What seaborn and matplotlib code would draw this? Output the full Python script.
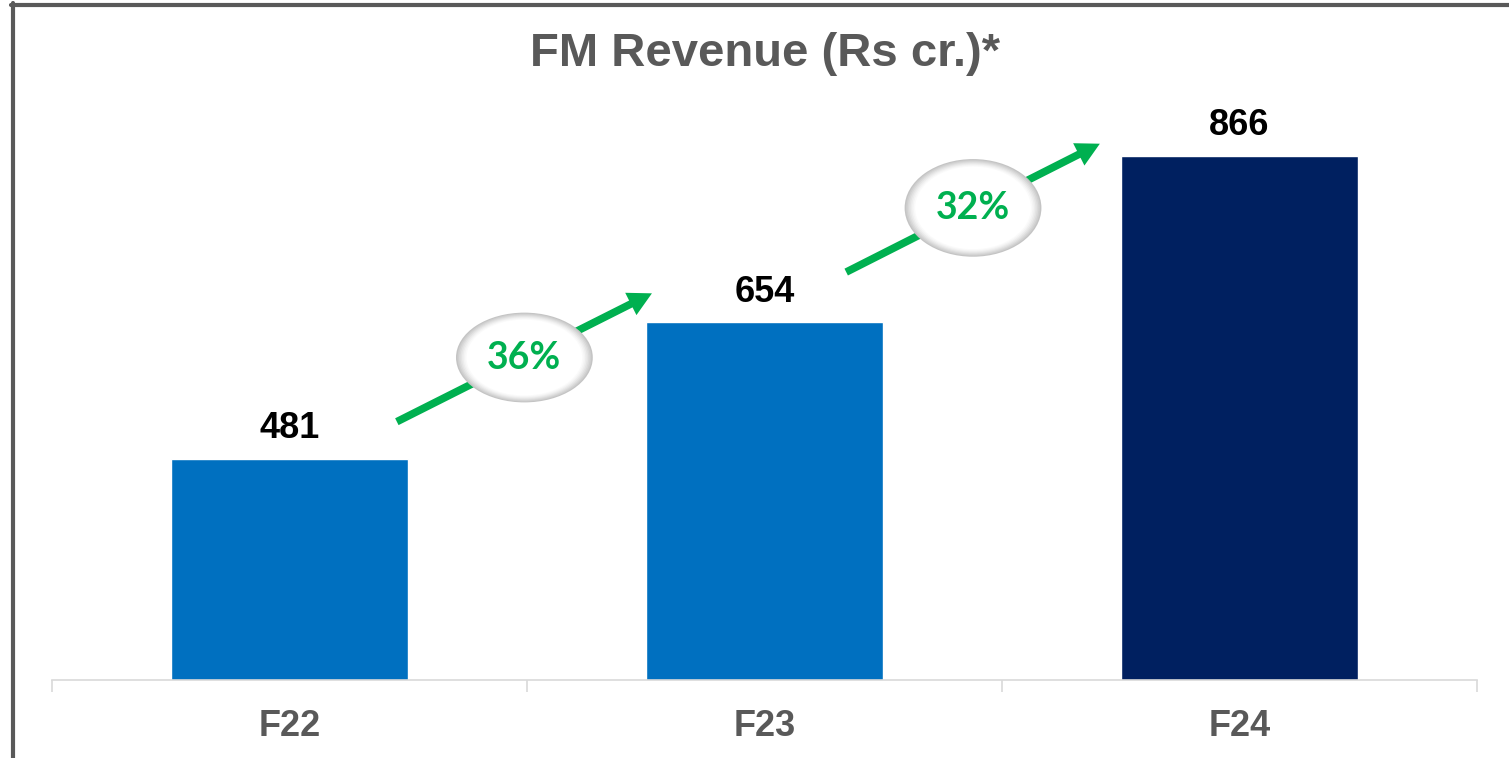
import matplotlib
matplotlib.use("Agg")
import matplotlib.pyplot as plt
from matplotlib.patches import Ellipse
from matplotlib.lines import Line2D
import seaborn as sns
import pandas as pd

# ---- data ----
categories = ["F22", "F23", "F24"]
revenue = [481, 654, 866]
bar_colors = ["#0070C0", "#0070C0", "#002060"]
growth_labels = ["36%", "32%"]
title = "FM Revenue (Rs cr.)*"

sns.set_theme(style="white")
plt.rcParams["font.family"] = ["Liberation Sans", "DejaVu Sans"]

df = pd.DataFrame({"year": categories, "rev": revenue})

fig = plt.figure(figsize=(15.09, 7.58), dpi=100)
ax = fig.add_axes([52 / 1509, 78 / 758, 1425 / 1509, 630 / 758])

sns.barplot(data=df, x="year", y="rev", hue="year", palette=bar_colors,
            width=0.5, legend=False, ax=ax, saturation=1)

ax.set_xlim(-0.5, 2.5)
ax.set_ylim(200, 1000)
ax.set_xlabel("")
ax.set_ylabel("")
ax.set_yticks([])
for s in ["top", "right", "left"]:
    ax.spines[s].set_visible(False)
ax.spines["bottom"].set_color("#d9d9d9")
ax.spines["bottom"].set_linewidth(1.2)

ax.set_xticks(range(len(categories)))
ax.set_xticklabels(categories, fontsize=26, fontweight="bold", color="#595959")
ax.tick_params(axis="x", which="major", length=0, pad=21)
ax.set_xticks([i - 0.5 for i in range(len(categories) + 1)], minor=True)
ax.tick_params(axis="x", which="minor", length=8.5, width=1.2, color="#d9d9d9",
               direction="out", bottom=True)

# value labels
for i, v in enumerate(revenue):
    ax.annotate(f"{v}", xy=(i, v), xytext=(0, 15), textcoords="offset points",
                ha="center", va="baseline", fontsize=26, fontweight="bold",
                color="black")

# growth arrows with ellipses
green = "#00B050"
start_dx = [0.226, 0.172]
end_dx = [0.763, 0.706]
start_off = [47, 64]
end_off = [37, 15]
ell_h = [114, 124]
shades = ["#c4c4c4", "#cfcfcf", "#d9d9d9", "#e3e3e3", "#ececec", "#f4f4f4", "#fafafa", "#ffffff"]
for i, lab in enumerate(growth_labels):
    x0, y0 = i + start_dx[i], revenue[i] + start_off[i]
    x1, y1 = i + end_dx[i], revenue[i + 1] + end_off[i]
    ax.annotate("", xy=(x1, y1), xytext=(x0, y0),
                arrowprops=dict(arrowstyle="simple,head_length=1.7,head_width=1.8,tail_width=0.55",
                                mutation_scale=10, color=green, lw=0,
                                shrinkA=0, shrinkB=0), zorder=4)
    cx, cy = (x0 + x1) / 2, (y0 + y1) / 2
    w, h = 0.288, ell_h[i]
    for k, c in enumerate(shades):
        f = 1.0 - k * 0.022
        ax.add_patch(Ellipse((cx, cy), w * f, h * f, facecolor=c, edgecolor="none",
                             zorder=5 + k * 0.01))
    ax.text(cx, cy, lab, ha="center", va="center", fontsize=27, fontweight="bold",
            color=green, zorder=6, family=["Lato", "DejaVu Sans"])

fig.text(765 / 1509, 1 - 54 / 758, title, ha="center", va="center", fontsize=34,
         fontweight="bold", color="#595959")

# partial frame (top and left)
frame_c = "#595959"
fig.add_artist(Line2D([11 / 1509, 1.0], [1 - 5 / 758, 1 - 5 / 758], color=frame_c,
                      lw=3, transform=fig.transFigure))
fig.add_artist(Line2D([13 / 1509, 13 / 1509], [0, 1 - 3 / 758], color=frame_c,
                      lw=3, transform=fig.transFigure))

fig.savefig("out.png", dpi=100)
